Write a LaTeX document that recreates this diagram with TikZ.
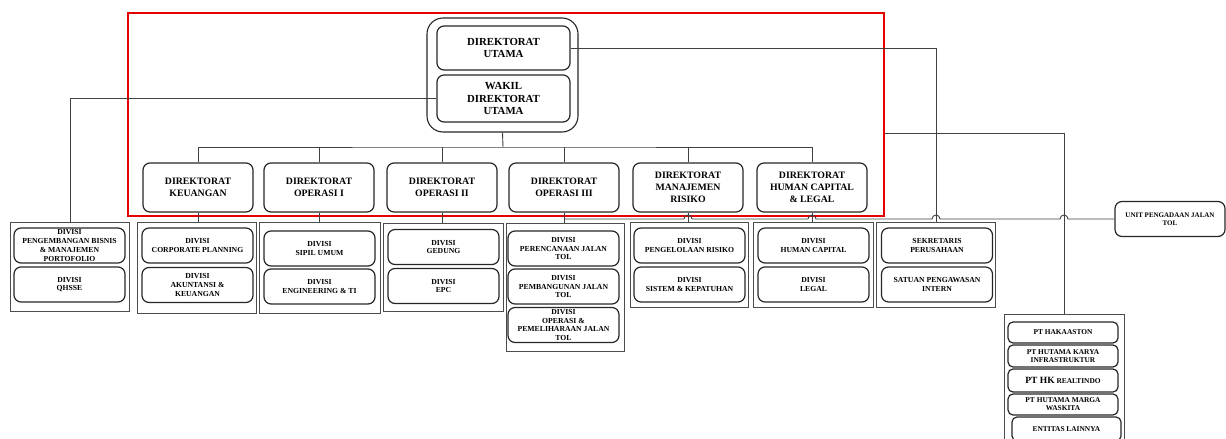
\documentclass[tikz,border=0pt]{standalone}
\usepackage{fontspec}
\setmainfont{Liberation Serif}

\tikzset{
  kotak/.style={draw=black!85, line width=1.2pt, rounded corners=7pt, align=center, inner sep=1pt},
  direktorat/.style={kotak, minimum width=110pt, minimum height=49pt, font=\fontsize{9.8}{11.8}\selectfont\bfseries},
  divisi/.style={kotak, minimum width=111pt, minimum height=35pt, font=\fontsize{7.7}{8.8}\selectfont\bfseries},
  anak/.style={kotak, rounded corners=5pt, minimum width=110pt, minimum height=22pt, font=\fontsize{7.4}{8}\selectfont\bfseries},
  grup/.style={draw=black!70, line width=0.7pt},
  garis/.style={black!75, line width=0.9pt},
}

\begin{document}
\begin{tikzpicture}[x=1pt, y=-1pt]
    \clip (0,0) rectangle (1226,439);

    % kotak merah
    \node[draw=red!90!black, line width=1.7pt, minimum width=756pt, minimum height=203pt] (fokus) at (506,114.5) {};

    % direktorat utama dan wakil
    \node[kotak, line width=1.1pt, rounded corners=16pt, minimum width=151pt, minimum height=114pt] (pusat) at (502.5,75) {};
    \node[kotak, minimum width=133pt, minimum height=44pt, font=\fontsize{10.8}{12.5}\selectfont\bfseries] (du) at (503.5,48) {DIREKTORAT\\UTAMA};
    \node[kotak, minimum width=133pt, minimum height=47pt, font=\fontsize{10.8}{12.5}\selectfont\bfseries] (wdu) at (503.5,98.5) {WAKIL\\DIREKTORAT\\UTAMA};

    % direktorat
    \node[direktorat] (d1) at (198,187.5) {DIREKTORAT\\KEUANGAN};
    \node[direktorat] (d2) at (319,187.5) {DIREKTORAT\\OPERASI I};
    \node[direktorat] (d3) at (442,187.5) {DIREKTORAT\\OPERASI II};
    \node[direktorat] (d4) at (564,187.5) {DIREKTORAT\\OPERASI III};
    \node[direktorat] (d5) at (688,187.5) {DIREKTORAT\\MANAJEMEN\\RISIKO};
    \node[direktorat] (d6) at (812,187.5) {DIREKTORAT\\HUMAN CAPITAL\\\& LEGAL};

    % kelompok divisi
    \node[grup, minimum width=119pt, minimum height=89pt] (g0) at (70,266.5) {};
    \node[grup, minimum width=119pt, minimum height=91pt] (g1) at (196.5,267.5) {};
    \node[grup, minimum width=121pt, minimum height=91pt] (g2) at (319.5,267.5) {};
    \node[grup, minimum width=120pt, minimum height=88pt] (g3) at (443,267) {};
    \node[grup, minimum width=118pt, minimum height=128pt] (g4) at (565,287) {};
    \node[grup, minimum width=118pt, minimum height=85pt] (g5) at (689,264.5) {};
    \node[grup, minimum width=120pt, minimum height=85pt] (g6) at (813,264.5) {};
    \node[grup, minimum width=119pt, minimum height=85pt] (g7) at (936,264.5) {};
    \node[grup, minimum width=120pt, minimum height=132pt] (g8) at (1064,380) {};

    % divisi
    \node[divisi] (pbm) at (69.5,245.5) {DIVISI\\PENGEMBANGAN BISNIS\\\& MANAJEMEN\\PORTOFOLIO};
    \node[divisi] (qhsse) at (69.5,284.5) {DIVISI\\QHSSE};
    \node[divisi] (cp) at (197.5,245.5) {DIVISI\\CORPORATE PLANNING};
    \node[divisi] (akt) at (197.5,285) {DIVISI\\AKUNTANSI \&\\KEUANGAN};
    \node[divisi] (sipil) at (319.5,248.5) {DIVISI\\SIPIL UMUM};
    \node[divisi] (eng) at (319.5,286.5) {DIVISI\\ENGINEERING \& TI};
    \node[divisi] (gedung) at (443.5,247) {DIVISI\\GEDUNG};
    \node[divisi] (epc) at (443.5,286) {DIVISI\\EPC};
    \node[divisi] (rencana) at (563.5,248.5) {DIVISI\\PERENCANAAN JALAN\\TOL};
    \node[divisi] (bangun) at (563.5,286.5) {DIVISI\\PEMBANGUNAN JALAN\\TOL};
    \node[divisi] (opsjalan) at (563.5,325) {DIVISI\\OPERASI \&\\PEMELIHARAAN JALAN\\TOL};
    \node[divisi] (risiko) at (689.5,245.5) {DIVISI\\PENGELOLAAN RISIKO};
    \node[divisi] (sistem) at (689.5,284.5) {DIVISI\\SISTEM \& KEPATUHAN};
    \node[divisi] (hc) at (813.5,245.5) {DIVISI\\HUMAN CAPITAL};
    \node[divisi] (legal) at (813.5,284.5) {DIVISI\\LEGAL};
    \node[divisi] (sekper) at (937,245.5) {SEKRETARIS\\PERUSAHAAN};
    \node[divisi] (spi) at (937,284.5) {SATUAN PENGAWASAN\\INTERN};
    \node[divisi, minimum width=110pt, font=\fontsize{7}{8.5}\selectfont\bfseries] (unit) at (1170,219) {UNIT PENGADAAN JALAN\\TOL};

    % anak perusahaan
    \node[anak, minimum height=21pt] (hka) at (1063,332.5) {PT HAKAASTON};
    \node[anak] (hki) at (1063,356) {PT HUTAMA KARYA\\INFRASTRUKTUR};
    \node[anak, minimum height=23pt] (hkr) at (1063,380.5) {{\fontsize{9.5}{9.5}\selectfont PT HK} REALTINDO};
    \node[anak, minimum height=21pt] (hmw) at (1063,404.5) {PT HUTAMA MARGA\\WASKITA};
    \node[anak, minimum width=109pt, minimum height=24pt] (lain) at (1066.5,429) {ENTITAS LAINNYA};

    % garis
    \coordinate (bus) at (503,147);
    \coordinate (cabang) at (0,133);
    \coordinate (jalur) at (0,219);
    \draw[garis] (pusat.south) -- (bus);
    \draw[garis] (d1.north) |- (bus) -| (d6.north);
    \foreach \d in {d2,d3,d4,d5}
        \draw[garis] (\d.north) -- (\d.north |- bus);
    \foreach \d/\g in {d1/g1,d2/g2,d3/g3,d4/g4,d5/g5,d6/g6}
        \draw[garis] (\d.south) -- (\d.south |- \g.north);
    \draw[garis] (wdu.west) -| (g0.north);
    \draw[garis] (du.east) -| (g7.north);
    \draw[garis] (fokus.east |- cabang) -| (g8.north);
    \draw[garis] (d4.south |- jalur)
        \foreach \hx in {688,812,936,1064} { -- (\hx-4,219) arc[start angle=180, end angle=0, radius=4pt] }
        -- (unit.west);
\end{tikzpicture}
\end{document}
